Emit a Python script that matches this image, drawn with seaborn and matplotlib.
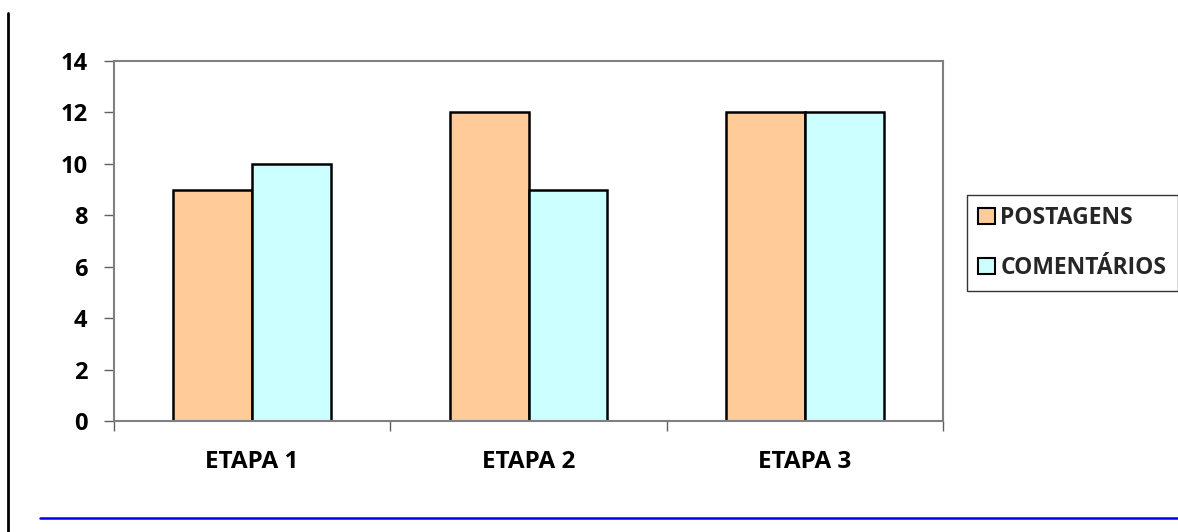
import pandas as pd
import matplotlib
matplotlib.use("Agg")
from matplotlib import pyplot as plt
from matplotlib.lines import Line2D
from matplotlib.patches import Patch
import seaborn as sns

sns.set_theme(style="white")
plt.rcParams["font.family"] = ["Open Sans", "DejaVu Sans"]

STAGES = ["ETAPA 1", "ETAPA 2", "ETAPA 3"]
POSTAGENS = [9, 12, 12]
COMENTARIOS = [10, 9, 12]
SERIES = ["POSTAGENS", "COMENTÁRIOS"]
COLORS = ["#FFCC99", "#CCFFFF"]

df = pd.DataFrame({
    "etapa": STAGES * 2,
    "valor": POSTAGENS + COMENTARIOS,
    "serie": [SERIES[0]] * 3 + [SERIES[1]] * 3,
})

fig = plt.figure(figsize=(11.78, 5.32), dpi=100)
ax = fig.add_axes([114 / 1178, 1 - 421 / 532, (943 - 114) / 1178, (421 - 61) / 532])

sns.barplot(data=df, x="etapa", y="valor", hue="serie", palette=COLORS,
            saturation=1, width=0.57, edgecolor="black", linewidth=1.8,
            ax=ax, legend=False)

ax.set_xlim(-0.5, 2.5)
ax.set_ylim(0, 14)
ax.set_yticks(range(0, 15, 2))
ax.set_xticks(range(len(STAGES)), STAGES)
ax.set_xticks([-0.5, 0.5, 1.5, 2.5], minor=True)
ax.set_xlabel("")
ax.set_ylabel("")

for side in ax.spines.values():
    side.set_color("#808080")
    side.set_linewidth(1.5)

ax.tick_params(axis="y", direction="out", length=7, width=1, color="#606060",
               left=True, pad=12, labelsize=17, labelcolor="black")
ax.tick_params(axis="x", which="major", length=0, pad=21, labelcolor="black")
ax.tick_params(axis="x", which="minor", direction="out", length=7, width=1,
               color="#606060", bottom=True)
for lab in ax.get_xticklabels():
    lab.set_fontsize(17.5)
    lab.set_fontweight("bold")
for lab in ax.get_yticklabels():
    lab.set_fontweight("bold")

handles = [Patch(facecolor=c, edgecolor="black", linewidth=1.5) for c in COLORS]
leg = fig.legend(handles, SERIES, loc="upper left",
                 bbox_to_anchor=(967 / 1178, 1 - 195 / 532),
                 frameon=True, fancybox=False, edgecolor="black",
                 prop={"weight": "bold", "size": 16.5},
                 handlelength=0.7, handleheight=0.7, handletextpad=0.25,
                 labelspacing=1.1, borderpad=0.5, borderaxespad=0)
leg.get_frame().set_linewidth(1.0)

fig.add_artist(Line2D([8 / 1178, 8 / 1178], [0, 1 - 13 / 532],
                      color="black", linewidth=2))
fig.add_artist(Line2D([40 / 1178, 1], [1 - 518 / 532, 1 - 518 / 532],
                      color="#0000EE", linewidth=1.8))

fig.savefig("out.png", dpi=100)
